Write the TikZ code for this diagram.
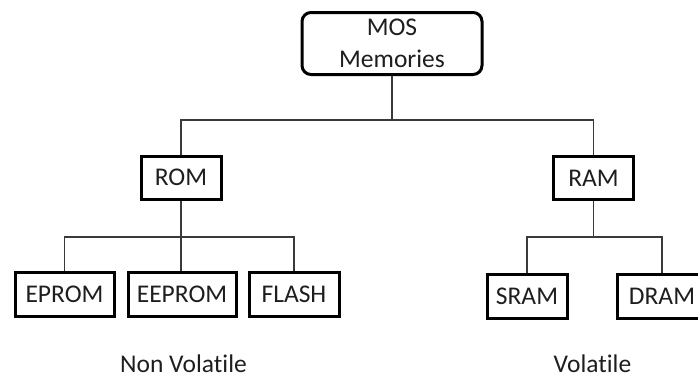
\documentclass[tikz,border=0pt]{standalone}
\usepackage{fontspec}
\setmainfont{Carlito}[Ligatures=NoCommon]
\usetikzlibrary{positioning}
\definecolor{ink}{HTML}{1E1E1E}
\definecolor{wire}{HTML}{3A3A3A}
\tikzset{
  memb/.style={draw=black, line width=3pt, fill=white, align=center, inner sep=0pt,
               minimum width=#1, minimum height=43pt, text=ink,
               font=\fontsize{25.5}{32}\selectfont},
  memb/.default=80pt,
  tag/.style={text=ink, font=\fontsize{25.5}{32}\selectfont, inner sep=0pt, anchor=base},
  link/.style={draw=wire, line width=1.1pt},
}
\begin{document}
\begin{tikzpicture}[x=1pt, y=-1pt]
\useasboundingbox (0,0) rectangle (698,378);
% root
\node[memb=180pt, minimum height=62pt, rounded corners=9pt] (mos) at (392,43.5) {MOS\\ Memories};

% main branches
\node[memb] (rom) at (181,177.5) {ROM};
\node[memb] (ram) at (593.5,178) {RAM};

% leaves
\node[memb=99pt, minimum height=44pt] (eprom) at (64.5,294) {EPROM};
\node[memb=108pt, minimum height=44pt] (eeprom) at (182,294) {EEPROM};
\node[memb=90pt, minimum height=44pt] (flash) at (294,294) {FLASH};
\node[memb=80pt, minimum height=44pt] (sram) at (527,296) {SRAM};
\node[memb=90pt, minimum height=44pt] (dram) at (662,296.5) {DRAM};

% group captions
\node[tag] (nonvol) at (183.5,372) {Non Volatile};
\node[tag] (vol) at (592.5,372) {Volatile};

% tree lines
\coordinate (mossplit) at (392,120);
\coordinate (romsplit) at (181,237);
\coordinate (ramsplit) at (593.5,237);
\draw[link] (mos.south) -- (mossplit) -| (rom.north);
\draw[link] (mossplit) -| (ram.north);
\draw[link] (rom.south) -- (romsplit) -| (eprom.north);
\draw[link] (romsplit) -| (flash.north);
\draw[link] (romsplit) -- (romsplit |- eeprom.north);
\draw[link] (ram.south) -- (ramsplit) -| (sram.north);
\draw[link] (ramsplit) -| (dram.north);
\end{tikzpicture}
\end{document}
